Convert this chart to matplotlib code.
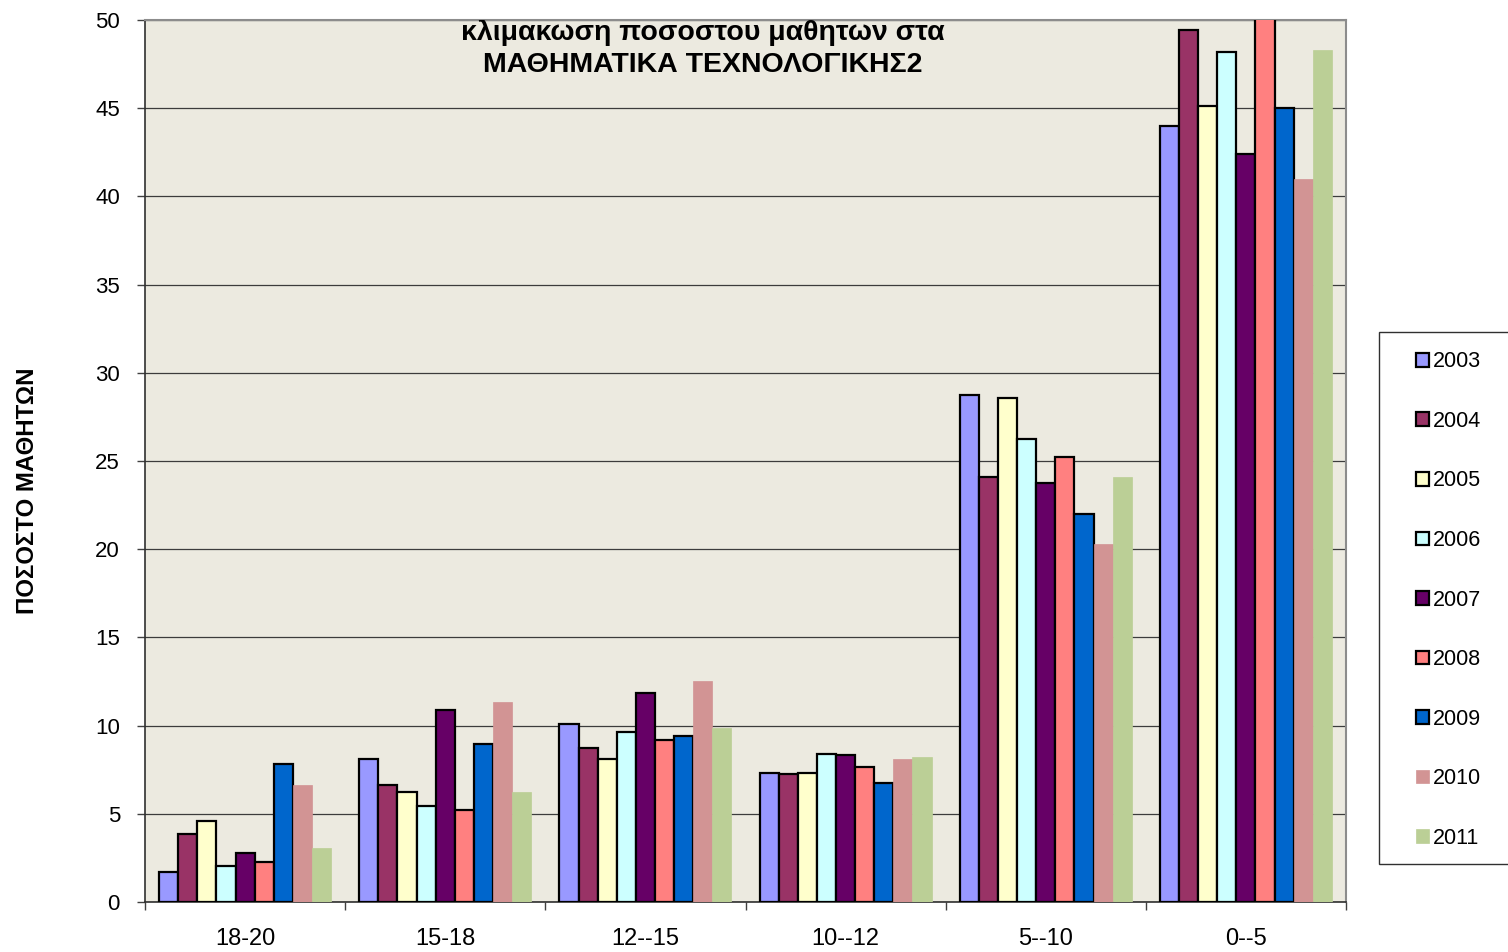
import matplotlib
matplotlib.use("Agg")
import matplotlib.pyplot as plt
import numpy as np
from matplotlib.patches import Patch, Rectangle

plt.rcParams["font.family"] = ["Liberation Sans", "DejaVu Sans"]

# Δεδομένα (ποσοστό μαθητών ανά κλίμακα βαθμών και έτος)
categories = ["18-20", "15-18", "12--15", "10--12", "5--10", "0--5"]
years = ["2003", "2004", "2005", "2006", "2007", "2008", "2009", "2010", "2011"]

v2003 = [1.68, 8.11, 10.09, 7.31, 28.76, 43.97]
v2004 = [3.84, 6.65, 8.71, 7.24, 24.08, 49.44]
v2005 = [4.61, 6.25, 8.09, 7.31, 28.59, 45.10]
v2006 = [2.06, 5.44, 9.62, 8.37, 26.25, 48.21]
v2007 = [2.76, 10.88, 11.85, 8.32, 23.73, 42.39]
v2008 = [2.29, 5.20, 9.17, 7.67, 25.21, 50.46]
v2009 = [7.82, 8.96, 9.43, 6.75, 22.02, 44.99]
v2010 = [6.61, 11.36, 12.53, 8.12, 20.31, 40.98]
v2011 = [3.04, 6.25, 9.88, 8.24, 24.12, 48.31]
values = [v2003, v2004, v2005, v2006, v2007, v2008, v2009, v2010, v2011]

title_lines = ["κλιμακωση ποσοστου μαθητων στα", "ΜΑΘΗΜΑΤΙΚΑ ΤΕΧΝΟΛΟΓΙΚΗΣ2"]

colors = ["#9999FF", "#993366", "#FFFFCC", "#CCFFFF", "#660066",
          "#FF8080", "#0066CC", "#D29494", "#BBCF96"]
edged = [True, True, True, True, True, True, True, False, False]

fig = plt.figure(figsize=(15.08, 9.52), dpi=100)
ax = fig.add_axes([145 / 1508, 1 - 902 / 952, 1201 / 1508, 882 / 952])
ax.set_facecolor("#ECEAE0")

x = np.arange(len(categories))
width = 0.0955
offsets = (np.arange(len(years)) - (len(years) - 1) / 2) * width

for i, (yr, vals) in enumerate(zip(years, values)):
    ax.bar(x + offsets[i], vals, width=width, color=colors[i],
           edgecolor="black" if edged[i] else colors[i],
           linewidth=1.6 if edged[i] else 0.5, zorder=3, label=yr)

ax.set_xlim(-0.5, len(categories) - 0.5)
ax.set_ylim(0, 50)
ax.set_yticks(np.arange(0, 51, 5))
ax.yaxis.grid(True, color="#3c3c3c", linewidth=0.9, zorder=0)
ax.set_axisbelow(True)

# Διαχωριστικά ομάδων ως κύρια ticks, ετικέτες στο κέντρο
ax.set_xticks(np.arange(-0.5, len(categories), 1.0))
ax.set_xticklabels([])
ax.set_xticks(x, minor=True)
ax.set_xticklabels(categories, minor=True, fontsize=17)
ax.tick_params(axis="x", which="major", length=6, width=1, color="#404040")
ax.tick_params(axis="x", which="minor", length=0, pad=19)
ax.tick_params(axis="y", length=6, width=1, color="#404040", pad=12, labelsize=16)

for side in ("top", "right"):
    ax.spines[side].set_color("#8c8c8c")
    ax.spines[side].set_linewidth(1.5)
for side in ("left", "bottom"):
    ax.spines[side].set_color("#303030")
    ax.spines[side].set_linewidth(1.2)

# Τίτλος μέσα στην περιοχή σχεδίασης (η πρώτη γραμμή κόβεται στο πάνω όριο)
tx = (703 - 145) / 1201
for line, base_px in zip(title_lines, [40.5, 72]):
    ax.text(tx, (902 - base_px) / 882, line, transform=ax.transAxes,
            ha="center", va="baseline", fontsize=20.5, fontweight="bold",
            clip_on=True, zorder=5)

fig.text(27 / 1508, 1 - 490.5 / 952, "ΠΟΣΟΣΤΟ ΜΑΘΗΤΩΝ", rotation=90,
         ha="center", va="center", fontsize=17.3, fontweight="bold")

# Πλαίσιο υπομνήματος
fig.patches.append(Rectangle((1379 / 1508, 1 - 864 / 952), 0.2, 532 / 952,
                             transform=fig.transFigure, facecolor="white",
                             edgecolor="#303030", linewidth=1.0, zorder=0))
handles = [Patch(facecolor=c, edgecolor="black" if e else c, linewidth=1.6 if e else 0.5)
           for c, e in zip(colors, edged)]
fig.legend(handles, years, loc="center left",
           bbox_to_anchor=(1416 / 1508, 1 - 600 / 952), frameon=False,
           fontsize=15.5, handlelength=0.6, handleheight=0.6, handletextpad=0.2,
           labelspacing=1.79, borderpad=0, borderaxespad=0)

fig.savefig("out.png", dpi=100)
